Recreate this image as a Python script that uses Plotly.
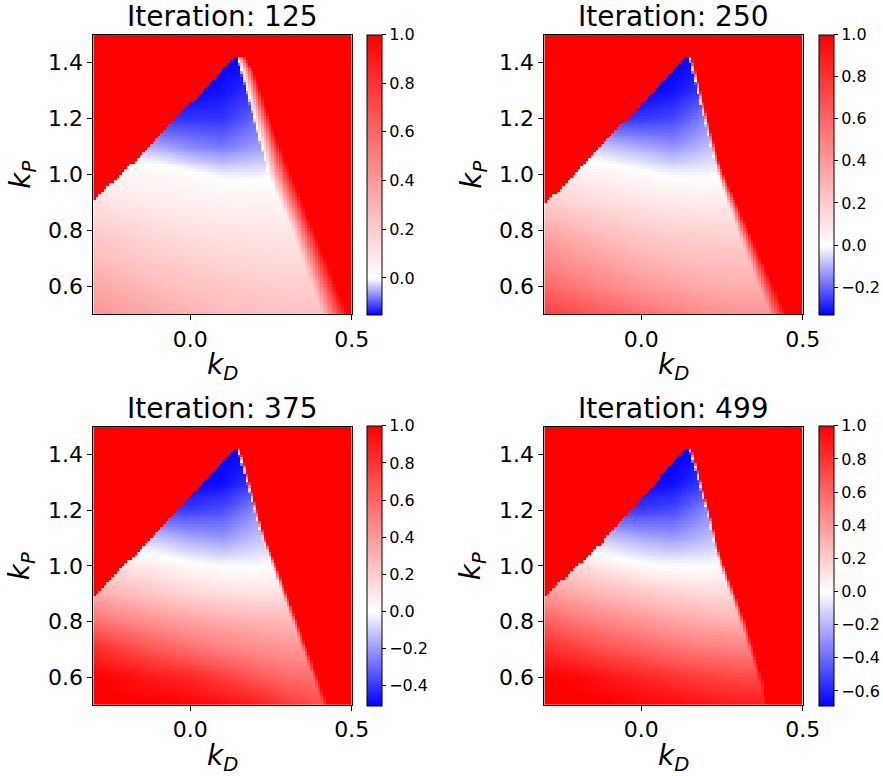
import numpy as np
import plotly.graph_objects as go

# ---------------- data ----------------
ITERATIONS = [125, 250, 375, 499]
Z_MIN = [-0.15, -0.33, -0.51, -0.69]
Z_MAX = 1.0

X_TICKS = [0.0, 0.5]
X_TICK_TEXT = ["0.0", "0.5"]
Y_TICKS = [0.6, 0.8, 1.0, 1.2, 1.4]
Y_TICK_TEXT = ["0.6", "0.8", "1.0", "1.2", "1.4"]
CB_TICKS = [
    [0.0, 0.2, 0.4, 0.6, 0.8, 1.0],
    [-0.2, 0.0, 0.2, 0.4, 0.6, 0.8, 1.0],
    [-0.4, -0.2, 0.0, 0.2, 0.4, 0.6, 0.8, 1.0],
    [-0.6, -0.4, -0.2, 0.0, 0.2, 0.4, 0.6, 0.8, 1.0],
]

# anchor grid (k_D columns, k_P rows)
GRID_KD = [-0.3, -0.2, -0.1, 0.0, 0.1, 0.2, 0.3, 0.4, 0.5]
GRID_KP = [0.5, 0.6, 0.7, 0.8, 0.9, 1.0, 1.1, 1.2, 1.3, 1.4, 1.5]

VALUES_125 = [
    [0.42, 0.38, 0.34, 0.30, 0.27, 0.25, 0.24, 0.23, 0.23],
    [0.35, 0.31, 0.27, 0.24, 0.22, 0.20, 0.19, 0.19, 0.19],
    [0.27, 0.23, 0.20, 0.18, 0.16, 0.15, 0.14, 0.14, 0.14],
    [0.20, 0.17, 0.14, 0.12, 0.11, 0.10, 0.10, 0.10, 0.10],
    [0.12, 0.10, 0.08, 0.07, 0.06, 0.05, 0.05, 0.05, 0.05],
    [0.05, 0.04, 0.03, 0.01, -0.01, -0.01, 0.00, 0.00, 0.00],
    [-0.03, -0.04, -0.05, -0.07, -0.08, -0.06, -0.05, -0.05, -0.05],
    [-0.12, -0.12, -0.12, -0.12, -0.12, -0.09, -0.08, -0.08, -0.08],
    [-0.15, -0.15, -0.15, -0.15, -0.14, -0.12, -0.11, -0.11, -0.11],
    [-0.15, -0.15, -0.15, -0.15, -0.15, -0.14, -0.13, -0.13, -0.13],
    [-0.15, -0.15, -0.15, -0.15, -0.15, -0.14, -0.13, -0.13, -0.13],
]
VALUES_250 = [
    [0.76, 0.70, 0.63, 0.57, 0.51, 0.45, 0.42, 0.41, 0.41],
    [0.60, 0.53, 0.47, 0.41, 0.37, 0.33, 0.32, 0.32, 0.32],
    [0.47, 0.40, 0.35, 0.30, 0.27, 0.25, 0.24, 0.24, 0.24],
    [0.35, 0.29, 0.24, 0.20, 0.18, 0.17, 0.16, 0.16, 0.16],
    [0.20, 0.16, 0.13, 0.11, 0.09, 0.08, 0.08, 0.08, 0.08],
    [0.09, 0.07, 0.05, 0.02, -0.01, -0.01, 0.01, 0.01, 0.01],
    [-0.04, -0.06, -0.08, -0.11, -0.14, -0.09, -0.07, -0.07, -0.07],
    [-0.25, -0.25, -0.26, -0.26, -0.24, -0.16, -0.13, -0.13, -0.13],
    [-0.33, -0.33, -0.33, -0.33, -0.31, -0.25, -0.23, -0.23, -0.23],
    [-0.33, -0.33, -0.33, -0.33, -0.33, -0.31, -0.29, -0.29, -0.29],
    [-0.33, -0.33, -0.33, -0.33, -0.33, -0.31, -0.29, -0.29, -0.29],
]
VALUES_375 = [
    [1.00, 1.00, 1.00, 0.98, 0.95, 0.90, 0.78, 0.70, 0.70],
    [1.00, 0.95, 0.90, 0.85, 0.76, 0.66, 0.58, 0.55, 0.55],
    [0.85, 0.74, 0.65, 0.57, 0.50, 0.45, 0.42, 0.42, 0.42],
    [0.57, 0.48, 0.42, 0.37, 0.33, 0.30, 0.28, 0.28, 0.28],
    [0.33, 0.27, 0.21, 0.16, 0.13, 0.12, 0.11, 0.11, 0.11],
    [0.14, 0.10, 0.07, 0.02, -0.01, -0.01, 0.02, 0.02, 0.02],
    [-0.06, -0.09, -0.12, -0.18, -0.21, -0.13, -0.11, -0.11, -0.11],
    [-0.38, -0.38, -0.39, -0.39, -0.36, -0.24, -0.20, -0.20, -0.20],
    [-0.51, -0.51, -0.51, -0.51, -0.49, -0.40, -0.36, -0.36, -0.36],
    [-0.51, -0.51, -0.51, -0.51, -0.51, -0.48, -0.44, -0.44, -0.44],
    [-0.51, -0.51, -0.51, -0.51, -0.51, -0.48, -0.44, -0.44, -0.44],
]
VALUES_499 = [
    [1.00, 1.00, 1.00, 0.98, 0.96, 0.93, 0.90, 0.88, 0.88],
    [1.00, 0.97, 0.92, 0.86, 0.80, 0.75, 0.72, 0.70, 0.70],
    [0.84, 0.76, 0.68, 0.62, 0.56, 0.52, 0.50, 0.50, 0.50],
    [0.63, 0.54, 0.47, 0.42, 0.36, 0.32, 0.30, 0.30, 0.30],
    [0.40, 0.33, 0.27, 0.22, 0.18, 0.15, 0.14, 0.14, 0.14],
    [0.18, 0.14, 0.08, 0.02, -0.01, -0.01, 0.02, 0.02, 0.02],
    [-0.08, -0.12, -0.16, -0.23, -0.27, -0.19, -0.14, -0.14, -0.14],
    [-0.50, -0.52, -0.53, -0.53, -0.49, -0.33, -0.27, -0.27, -0.27],
    [-0.69, -0.69, -0.69, -0.69, -0.66, -0.54, -0.48, -0.48, -0.48],
    [-0.69, -0.69, -0.69, -0.69, -0.69, -0.66, -0.60, -0.60, -0.60],
    [-0.69, -0.69, -0.69, -0.69, -0.69, -0.66, -0.60, -0.60, -0.60],
]
VALUES = [VALUES_125, VALUES_250, VALUES_375, VALUES_499]

# left (upper) edge of the stable wedge: k_P as a function of k_D
LEFT_KD = [
    [-0.3, -0.14, 0.135],
    [-0.3, -0.139, 0.135],
    [-0.3, -0.139, 0.134],
    [-0.3, -0.126, 0.136],
]
LEFT_KP = [
    [0.91, 1.083, 1.421],
    [0.892, 1.083, 1.42],
    [0.883, 1.08, 1.42],
    [0.889, 1.077, 1.419],
]

# right edge: fade starts at INNER_KD, fully saturated at OUTER_KD (functions of k_P)
EDGE_KP = [
    [0.5, 0.82, 1.01, 1.125, 1.364, 1.44],
    [0.5, 0.75, 1.0, 1.05, 1.43],
    [0.5, 1.0, 1.1, 1.43],
    [0.5, 0.566, 0.805, 1.0, 1.07, 1.163, 1.43],
]
INNER_KD = [
    [0.41, 0.31, 0.24, 0.213, 0.157, 0.14],
    [0.40, 0.315, 0.238, 0.226, 0.145],
    [0.41, 0.255, 0.222, 0.143],
    [0.378, 0.37, 0.305, 0.245, 0.226, 0.21, 0.145],
]
OUTER_KD = [
    [0.49, 0.377, 0.31, 0.27, 0.2, 0.16],
    [0.45, 0.353, 0.258, 0.24, 0.155],
    [0.428, 0.268, 0.232, 0.153],
    [0.39, 0.384, 0.322, 0.258, 0.236, 0.219, 0.155],
]

# ---------------- grid of cells ----------------
NX, NY = 100, 100
KD_RANGE = [-0.3, 0.5]
KP_RANGE = [0.5, 1.5]
cell_kd = KD_RANGE[0] + (np.arange(NX) + 0.5) * (KD_RANGE[1] - KD_RANGE[0]) / NX
cell_kp = KP_RANGE[0] + (np.arange(NY) + 0.5) * (KP_RANGE[1] - KP_RANGE[0]) / NY


def build_field(k):
    vals = np.array(VALUES[k], dtype=float)
    rows = np.array([np.interp(cell_kd, GRID_KD, r) for r in vals])
    z = np.array([np.interp(cell_kp, GRID_KP, rows[:, i]) for i in range(NX)]).T
    KD, KP = np.meshgrid(cell_kd, cell_kp)
    left = np.interp(KD, LEFT_KD[k], LEFT_KP[k])
    inner = np.interp(KP, EDGE_KP[k], INNER_KD[k])
    outer = np.interp(KP, EDGE_KP[k], OUTER_KD[k])
    t = np.clip((KD - inner) / np.maximum(outer - inner, 1e-6), 0, 1)
    z = z * (1 - t) + t
    z[(KP > left) | (KD > outer)] = 1.0
    return z


# ---------------- layout geometry (screen pixels) ----------------
W, H = 883, 776
FONT = "DejaVu Sans"


def px_x(p):
    return p / W


def px_y(p):
    return 1 - p / H


X_DOMAINS = [[px_x(93.3), px_x(351.7)], [px_x(544.3), px_x(802.7)]]
Y_DOMAINS = [[px_y(314.3), px_y(34.7)], [px_y(705), px_y(426.7)]]
PLOT_LEFT = [93.3, 544.3]
PLOT_TOP = [34.7, 426.7]
PLOT_BOT = [314.3, 705]
CB_X = [px_x(367.3), px_x(819)]
CB_LEN = 279.6 / H


def fmt(v):
    s = f"{v:.1f}"
    return s.replace("-", "\u2212")


fig = go.Figure()
annotations = []
for k in range(4):
    col = k % 2
    row = k // 2
    ax = "" if k == 0 else str(k + 1)
    vmin = Z_MIN[k]
    f = -vmin / (Z_MAX - vmin)
    colorscale = [[0.0, "rgb(0,0,255)"], [f, "rgb(255,255,255)"], [1.0, "rgb(255,0,0)"]]
    yc = (Y_DOMAINS[row][0] + Y_DOMAINS[row][1]) / 2
    fig.add_trace(go.Heatmap(
        x=cell_kd, y=cell_kp, z=build_field(k),
        zmin=vmin, zmax=Z_MAX, colorscale=colorscale, zsmooth=False,
        xaxis="x" + ax, yaxis="y" + ax, hoverinfo="skip",
        colorbar=dict(
            x=CB_X[col], xanchor="left", xpad=0, ypad=0,
            y=yc, yanchor="middle", len=CB_LEN, lenmode="fraction",
            thickness=14.5, thicknessmode="pixels",
            outlinewidth=1, outlinecolor="black",
            ticks="outside", ticklen=4, tickwidth=1, tickcolor="black",
            tickvals=CB_TICKS[k], ticktext=[fmt(v) for v in CB_TICKS[k]],
            tickfont=dict(family=FONT, size=16, color="black"),
        ),
    ))
    axis_common = dict(
        showline=True, mirror=True, linecolor="black", linewidth=1,
        ticks="outside", ticklen=5, tickwidth=1, tickcolor="black",
        showgrid=False, zeroline=False, automargin=False,
        tickfont=dict(family=FONT, size=22, color="black"),
    )
    fig.layout["xaxis" + ax] = dict(
        domain=X_DOMAINS[col], range=KD_RANGE, anchor="y" + ax,
        tickvals=X_TICKS, ticktext=X_TICK_TEXT, **axis_common)
    fig.layout["yaxis" + ax] = dict(
        domain=Y_DOMAINS[row], range=KP_RANGE, anchor="x" + ax,
        tickvals=Y_TICKS, ticktext=Y_TICK_TEXT, **axis_common)

    xc = (X_DOMAINS[col][0] + X_DOMAINS[col][1]) / 2
    yc_plot = (Y_DOMAINS[row][0] + Y_DOMAINS[row][1]) / 2
    annotations.append(dict(
        text=f"Iteration: {ITERATIONS[k]}", x=xc, y=px_y(PLOT_TOP[row] - 18.5),
        xref="paper", yref="paper", xanchor="center", yanchor="middle",
        showarrow=False, font=dict(family=FONT, size=28, color="black")))
    annotations.append(dict(
        text="<i>k</i><sub><i>D</i></sub>", x=xc, y=px_y(PLOT_BOT[row] + 52),
        xref="paper", yref="paper", xanchor="center", yanchor="middle",
        showarrow=False, font=dict(family=FONT, size=28, color="black")))
    annotations.append(dict(
        text="<i>k</i><sub><i>P</i></sub>", x=px_x(PLOT_LEFT[col] - 71),
        y=yc_plot,
        xref="paper", yref="paper", xanchor="center", yanchor="middle",
        textangle=-90, showarrow=False,
        font=dict(family=FONT, size=28, color="black")))

fig.update_layout(
    width=W, height=H, margin=dict(l=0, r=0, t=0, b=0, autoexpand=False),
    paper_bgcolor="white", plot_bgcolor="white",
    font=dict(family=FONT, color="black"),
    annotations=annotations, showlegend=False,
)
fig.write_html("out.html", config={"displayModeBar": False},
               post_script="document.body.style.margin='0';")
